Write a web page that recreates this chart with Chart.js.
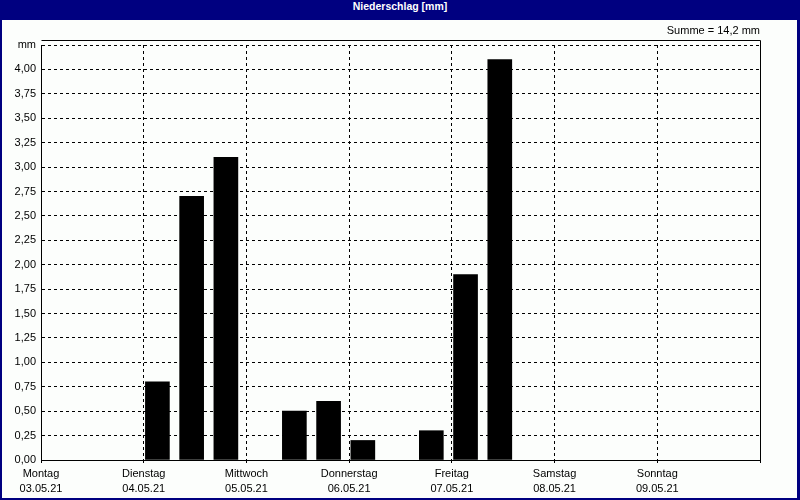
<!DOCTYPE html>
<html>
<head>
<meta charset="utf-8">
<script src="https://cdn.jsdelivr.net/npm/chart.js@4.4.1/dist/chart.umd.min.js"></script>
<style>
  body { margin: 0; }
  #frame { position: relative; width: 800px; height: 500px; background: #000080; }
  #title { height: 20px; line-height: 20px; text-align: center; color: #fff;
           font: bold 10.5px "Liberation Sans", sans-serif; }
  #graph { position: absolute; left: 2px; top: 20px; background: #fcfefc; }
</style>
</head>
<body>
<div id="frame">
  <div id="title">Niederschlag [mm]</div>
  <canvas id="graph" width="795" height="478"></canvas>
</div>
<script>
var days = ["Montag", "Dienstag", "Mittwoch", "Donnerstag", "Freitag", "Samstag", "Sonntag"];
var dates = ["03.05.21", "04.05.21", "05.05.21", "06.05.21", "07.05.21", "08.05.21", "09.05.21"];

// mm per 8 hour slot, starting Monday 00:00
var rain = [0, 0, 0,  0.8, 2.7, 3.1,  0, 0.5, 0.6,  0.2, 0, 0.3,  1.9, 4.1, 0,  0, 0, 0,  0, 0, 0];
var slotHours = 8;
var total = "14,2";

Chart.defaults.font.family = "'Liberation Sans Narrow', 'Liberation Sans', sans-serif";
Chart.defaults.font.size = 11;
Chart.defaults.color = "#000";

// empty slots get no bar at all
var points = rain.map((v, i) => ({ x: i * slotHours + 3.2, y: v > 0 ? v : null }));

// top and right edge of the plot box
var boxLines = {
  id: "boxLines",
  afterDraw: function(chart) {
    var a = chart.chartArea;
    var ctx = chart.ctx;
    var l = Math.round(a.left) + 0.5;
    var r = Math.round(a.right) + 0.5;
    var t = Math.round(a.top) - 5 + 0.5;
    ctx.save();
    ctx.strokeStyle = "#000";
    ctx.lineWidth = 1;
    ctx.beginPath();
    ctx.moveTo(l, t);
    ctx.lineTo(r, t);
    ctx.lineTo(r, a.bottom);
    ctx.stroke();
    ctx.restore();
  }
};

var graph = document.getElementById("graph").getContext("2d");

new Chart(graph, {
  type: "bar",
  data: {
    datasets: [
      {
        label: "Niederschlag",
        data: points,
        backgroundColor: "#000",
        borderWidth: 0,
        barThickness: 24
      }
    ]
  },
  options: {
    responsive: false,
    animation: false,
    layout: { padding: { left: 0, right: 37, top: 0, bottom: 0 } },
    plugins: {
      legend: { display: false },
      tooltip: { enabled: false },
      title: { display: false },
      subtitle: {
        display: true,
        text: "Summe = " + total + " mm",
        align: "end",
        color: "#000",
        font: { size: 11, lineHeight: 1.2 },
        padding: { top: 4, bottom: 7.8 }
      }
    },
    scales: {
      x: {
        type: "linear",
        min: 0,
        max: 168,
        offset: false,
        grid: { offset: false, color: "#000", tickLength: 3 },
        border: { color: "#000", dash: [3, 3] },
        ticks: {
          stepSize: 24,
          autoSkip: false,
          maxRotation: 0,
          padding: 3,
          font: { size: 11, lineHeight: 15 / 11 },
          callback: function(v) {
            var i = Math.round(v / 24);
            return i < days.length ? [days[i], dates[i]] : "";
          }
        },
        afterFit: function(scale) { scale.height = 38; }
      },
      y: {
        min: 0,
        max: 4.25,
        grid: { color: "#000", drawTicks: false },
        border: { color: "#000", dash: [3, 3] },
        ticks: {
          stepSize: 0.25,
          padding: 5,
          callback: function(v) {
            if (Math.abs(v - 4.25) < 1e-6) return "mm";
            return v.toFixed(2).replace(".", ",");
          }
        },
        afterFit: function(scale) { scale.width = 39; }
      }
    }
  },
  plugins: [boxLines]
});
</script>
</body>
</html>
